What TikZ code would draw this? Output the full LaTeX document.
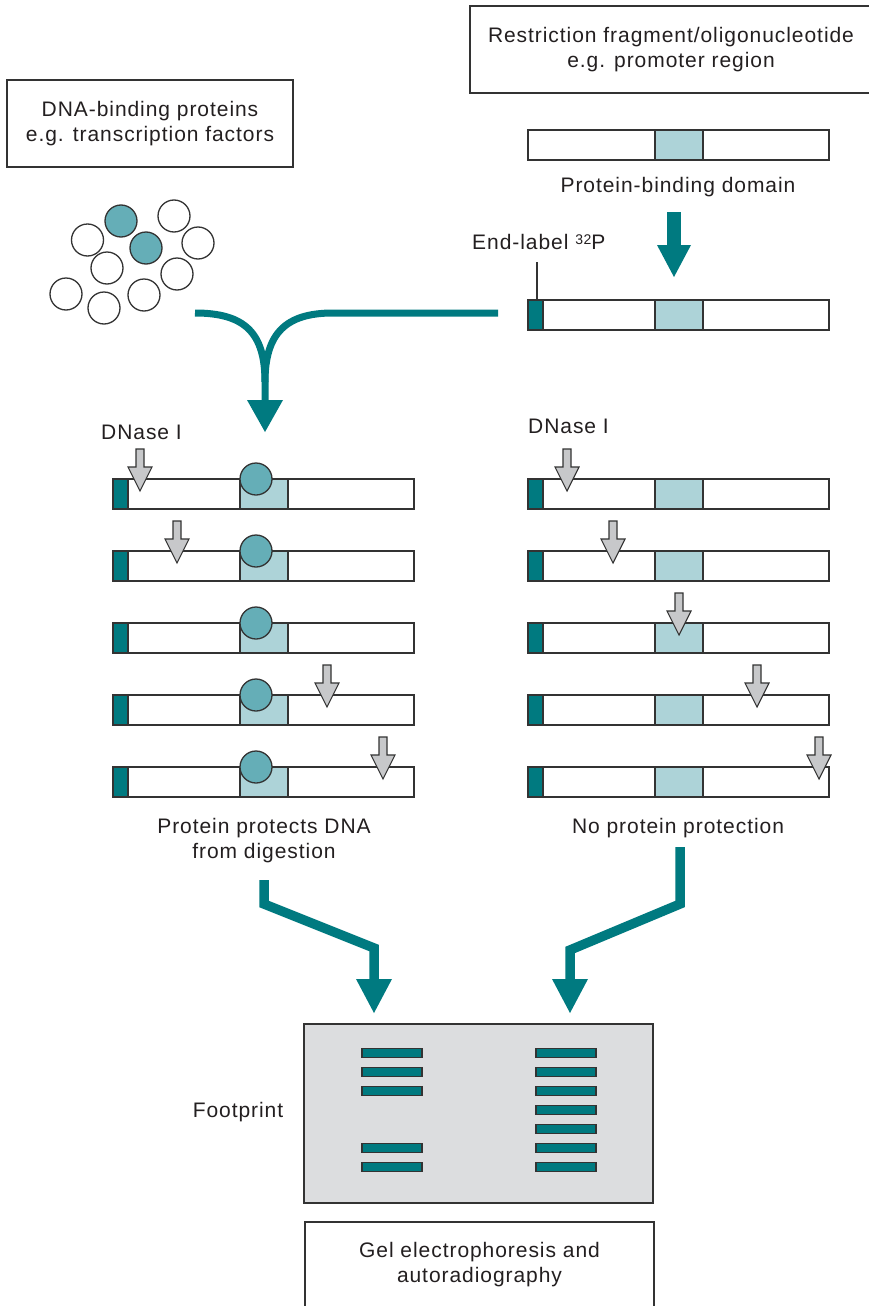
\documentclass[tikz,border=0pt]{standalone}
\usepackage{fontspec}
\setmainfont{Liberation Sans}[LetterSpace=4.5]
\definecolor{tealc}{HTML}{007A80}
\definecolor{circc}{HTML}{65AEB7}
\definecolor{domc}{HTML}{ADD3D8}
\definecolor{grayc}{HTML}{C7C8CA}
\definecolor{linec}{HTML}{333333}
\definecolor{textc}{HTML}{231F20}
\definecolor{gelc}{HTML}{DCDDDF}
\tikzset{
  lbl/.style={font=\fontsize{21}{25}\selectfont, text=textc, align=center, inner sep=0pt},
  framebox/.style={draw=linec, line width=1.3pt, fill=white},
  outline/.style={draw=linec, line width=1.3pt},
  flow/.style={draw=tealc, line width=7pt},
  flowthick/.style={draw=tealc, line width=9.5pt, miter limit=10},
  dnabar/.pic={
    \fill[white] (0,0) rectangle (301,30);
    \fill[domc] (127,0) rectangle (175,30);
    \draw[outline] (0,0) rectangle (301,30);
    \draw[outline] (127,0) -- (127,30) (175,0) -- (175,30);
  },
  dnalab/.pic={
    \fill[white] (0,0) rectangle (301,30);
    \fill[domc] (127,0) rectangle (175,30);
    \fill[tealc] (0,0) rectangle (15,30);
    \draw[outline] (0,0) rectangle (301,30);
    \draw[outline] (15,0) -- (15,30) (127,0) -- (127,30) (175,0) -- (175,30);
  },
  boundprot/.pic={\draw[outline, fill=circc] (143,0) circle[radius=16];},
  dnasecut/.pic={\draw[outline, line width=1.1pt, fill=grayc, line join=miter]
     (-4,-42) -- (4,-42) -- (4,-24) -- (12,-24) -- (0,0) -- (-12,-24) -- (-4,-24) -- cycle;},
}
\begin{document}
\begin{tikzpicture}[x=1pt,y=-1pt]
\useasboundingbox[fill=white] (0,0) rectangle (869,1306);

% top boxes
\node[framebox, lbl, minimum width=286pt, minimum height=87pt] (proteins) at (150,123.5)
  {DNA-binding proteins\\e.g. transcription factors};
\node[framebox, lbl, minimum width=402pt, minimum height=87pt] (fragment) at (671,49.5)
  {Restriction fragment/oligonucleotide\\e.g. promoter region};

% protein cluster
\foreach \cx/\cy/\cf [count=\i] in {121/221/circc,146/248/circc,174/216/white,87.5/240/white,198/243/white,
  107/268/white,177/274/white,66/294/white,104/308/white,144/295/white}
  \node[circle, draw=linec, line width=1.3pt, fill=\cf, minimum size=32pt, inner sep=0pt] (prot\i) at (\cx,\cy) {};

% top DNA
\pic at (528,130) {dnabar};
\node[lbl] (domainlbl) at (678,187) {Protein-binding domain};
\coordinate (topdown) at (674,212);
\fill[tealc] (667,212) rectangle (681,246);
\fill[tealc] (657,245) -- (691,245) -- (674,277) -- cycle;

\node[lbl, anchor=west] (endlbl) at (472,242) {End-label \raisebox{0.45ex}{\fontsize{14}{14}\selectfont 32}P};
\pic at (528,300) {dnalab};
\coordinate (ticktop) at (537,262);
\coordinate (tickbot) at (537,300);
\draw[linec, line width=1.1pt] (ticktop) -- (tickbot);

% merging arrow
\coordinate (mixL) at (195,313);
\coordinate (mixR) at (498,313);
\coordinate (mixM) at (265,382);
\coordinate (mixB) at (265,402);
\draw[flow] (mixL) .. controls (245,313) and (265,333) .. (mixM) -- (mixB);
\draw[flow] (mixR) -- (333,313) .. controls (286,313) and (265,333) .. (mixM);
\fill[tealc] (247,400) -- (283,400) -- (265,432) -- cycle;

% DNase labels
\node[lbl, anchor=west] (dnaseL) at (101,432) {DNase I};
\node[lbl, anchor=west] (dnaseR) at (528,426) {DNase I};

% left column (protected)
\foreach \ty in {479,551,623,695,767} {
  \pic at (113,\ty) {dnalab};
  \pic at (113,\ty) {boundprot};
}
\pic at (140,491) {dnasecut};
\pic at (177,563) {dnasecut};
\pic at (327,707) {dnasecut};
\pic at (383,779) {dnasecut};

% right column
\foreach \ty in {479,551,623,695,767} {
  \pic at (528,\ty) {dnalab};
}
\pic at (567,491) {dnasecut};
\pic at (613,563) {dnasecut};
\pic at (679,635) {dnasecut};
\pic at (757,707) {dnasecut};
\pic at (819,779) {dnasecut};

\node[lbl] (protlbl) at (264,841) {Protein protects DNA\\from digestion};
\node[lbl] (noprotlbl) at (678,828) {No protein protection};

% arrows to gel
\coordinate (aL0) at (264,880);
\coordinate (aL1) at (264,904);
\coordinate (aL2) at (374,948);
\coordinate (aL3) at (374,981);
\draw[flowthick] (aL0) -- (aL1) -- (aL2) -- (aL3);
\fill[tealc] (356,979) -- (392,979) -- (374,1013) -- cycle;
\coordinate (aR0) at (680,847);
\coordinate (aR1) at (680,904);
\coordinate (aR2) at (570,950);
\coordinate (aR3) at (570,981);
\draw[flowthick] (aR0) -- (aR1) -- (aR2) -- (aR3);
\fill[tealc] (552,979) -- (588,979) -- (570,1013) -- cycle;

% gel
\node[draw=linec, line width=1.3pt, fill=gelc, minimum width=349pt, minimum height=179pt, inner sep=0pt] (gel) at (478.5,1113.5) {};
\foreach \by in {1053,1072,1091,1148,1167}
  \draw[outline, fill=tealc, line width=1.2pt] (362,\by-4.5) rectangle (422,\by+4.5);
\foreach \by in {1053,1072,1091,1110,1129,1148,1167}
  \draw[outline, fill=tealc, line width=1.2pt] (536,\by-4.5) rectangle (596,\by+4.5);
\node[lbl] (footlbl) at (238,1112) {Footprint};

% bottom box
\node[framebox, minimum width=349pt, minimum height=90pt, inner sep=0pt] (gelbox) at (479.5,1267) {};
\node[lbl] (geltext) at (479.5,1265) {Gel electrophoresis and\\autoradiography};
\end{tikzpicture}
\end{document}
